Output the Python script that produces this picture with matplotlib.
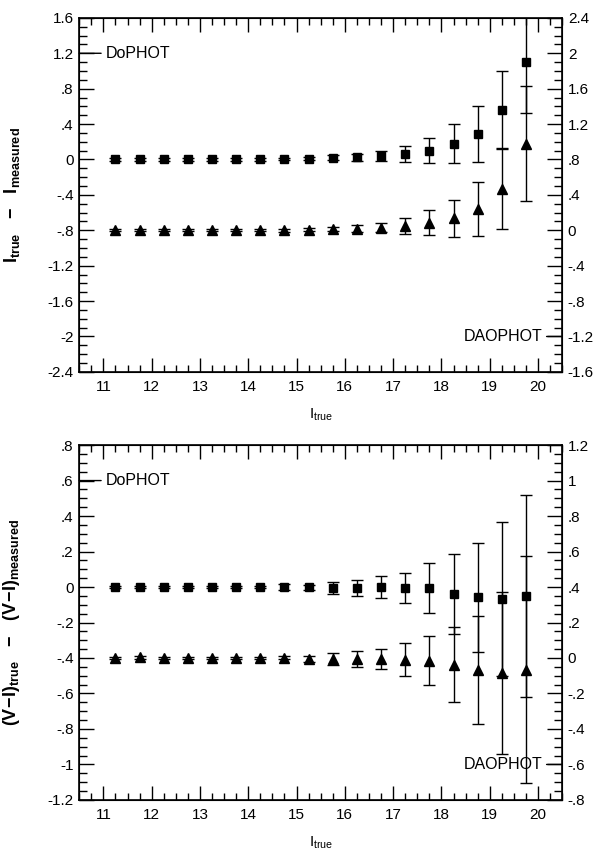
import matplotlib
matplotlib.use("Agg")
import matplotlib.pyplot as plt
from matplotlib.ticker import MultipleLocator, FuncFormatter

plt.rcParams["font.family"] = ["Liberation Sans", "DejaVu Sans"]
plt.rcParams["mathtext.fontset"] = "custom"
plt.rcParams["mathtext.rm"] = "Liberation Sans"
plt.rcParams["mathtext.it"] = "Liberation Sans"
plt.rcParams["mathtext.bf"] = "Liberation Sans:bold"

# input magnitude bins (bin centres)
i_true = [11.25, 11.75, 12.25, 12.75, 13.25, 13.75, 14.25, 14.75, 15.25,
          15.75, 16.25, 16.75, 17.25, 17.75, 18.25, 18.75, 19.25, 19.75]

# top panel: I_true - I_measured
di_dophot = [0, 0, 0, 0, 0, 0, 0, 0.005, 0.01, 0.02, 0.025, 0.04, 0.06,
             0.10, 0.18, 0.29, 0.56, 1.10]
di_dophot_err = [0.012, 0.012, 0.012, 0.012, 0.012, 0.012, 0.013, 0.015,
                 0.02, 0.025, 0.038, 0.06, 0.088, 0.143, 0.225, 0.315,
                 0.44, 0.58]
di_daophot = [0, 0, 0, 0, 0, 0, 0, 0, 0.005, 0.01, 0.02, 0.03, 0.05, 0.085,
              0.135, 0.235, 0.47, 0.98]
di_daophot_err = [0.01, 0.01, 0.01, 0.01, 0.01, 0.01, 0.012, 0.014, 0.018,
                  0.022, 0.035, 0.05, 0.09, 0.14, 0.21, 0.305, 0.46, 0.65]

# bottom panel: (V-I)_true - (V-I)_measured
dvi_dophot = [0, 0, 0, 0, 0, 0, 0, 0, -0.002, -0.005, -0.003, 0, -0.005,
              -0.005, -0.037, -0.059, -0.069, -0.05]
dvi_dophot_err = [0.006, 0.006, 0.006, 0.006, 0.006, 0.006, 0.008, 0.015,
                  0.015, 0.035, 0.045, 0.062, 0.085, 0.14, 0.225, 0.305,
                  0.435, 0.57]
dvi_daophot = [0, 0.003, 0.002, 0, 0.002, 0, 0, 0.002, -0.005, -0.005,
               -0.005, -0.005, -0.01, -0.015, -0.037, -0.066, -0.084, -0.066]
dvi_daophot_err = [0.006, 0.006, 0.006, 0.006, 0.006, 0.006, 0.008, 0.01,
                   0.015, 0.035, 0.047, 0.058, 0.093, 0.14, 0.21, 0.304,
                   0.455, 0.64]


def short_num(v, pos=None):
    s = f"{v:.2f}".rstrip("0").rstrip(".")
    if s in ("-0", "-0.", ""):
        s = "0"
    if s.startswith("0."):
        s = s[1:]
    elif s.startswith("-0."):
        s = "-" + s[2:]
    return s


def style_axis(ax, major, minor, side):
    ax.yaxis.set_major_locator(MultipleLocator(major))
    ax.yaxis.set_minor_locator(MultipleLocator(minor))
    ax.yaxis.set_major_formatter(FuncFormatter(short_num))
    ax.tick_params(axis="y", which="major", direction="in", length=11,
                   width=1, labelsize=11, pad=4,
                   left=(side == "left"), right=(side == "right"),
                   labelleft=(side == "left"), labelright=(side == "right"))
    ax.tick_params(axis="y", which="minor", direction="in", length=6,
                   width=1, left=(side == "left"), right=(side == "right"))


def panel(rect, ylim, offset, major, minor, y_do, e_do, y_dao, e_dao,
          ylabel, lab_do, lab_dao):
    ax = fig.add_axes(rect)
    ax.set_xlim(10.5, 20.5)
    ax.set_ylim(*ylim)
    ax.xaxis.set_major_locator(MultipleLocator(1))
    ax.xaxis.set_minor_locator(MultipleLocator(0.25))
    ax.tick_params(axis="x", which="major", direction="in", length=10,
                   width=1, top=True, labelsize=11, pad=6)
    ax.tick_params(axis="x", which="minor", direction="in", length=5,
                   width=1, top=True)
    style_axis(ax, major, minor, "left")
    for sp in ax.spines.values():
        sp.set_linewidth(1.2)

    ax2 = ax.twinx()
    ax2.set_ylim(ylim[0] + offset, ylim[1] + offset)
    style_axis(ax2, major, minor, "right")

    ax.errorbar(i_true, y_do, yerr=e_do, fmt="s", color="black", ms=5.5,
                capsize=4, elinewidth=1, capthick=1)
    ax2.errorbar(i_true, y_dao, yerr=e_dao, fmt="^", color="black", ms=6.5,
                 capsize=4, elinewidth=1, capthick=1)

    ax.set_xlabel(r"$\mathrm{I_{true}}$", fontsize=11, labelpad=9)
    ax.set_ylabel(ylabel, fontsize=13)
    ax.yaxis.set_label_coords(-0.118, 0.5)

    ax.annotate("DoPHOT", xy=(0, lab_do), xycoords=("axes fraction", "data"),
                xytext=(11.04, lab_do), textcoords="data", fontsize=11.5,
                ha="left", va="center",
                arrowprops=dict(arrowstyle="-", lw=1, shrinkA=1, shrinkB=0))
    ax.annotate("DAOPHOT", xy=(1, lab_dao), xycoords=("axes fraction", "data"),
                xytext=(20.09, lab_dao), textcoords="data", fontsize=11.5,
                ha="right", va="center",
                arrowprops=dict(arrowstyle="-", lw=1, shrinkA=1, shrinkB=0))
    return ax


fig = plt.figure(figsize=(6.0, 8.51), dpi=100)

panel([0.132, 0.563, 0.805, 0.416], (-2.4, 1.6), 0.8, 0.4, 0.1,
      di_dophot, di_dophot_err, di_daophot, di_daophot_err,
      r"$\mathbf{I_{true}}$   $\mathbf{-}$   $\mathbf{I_{measured}}$",
      1.2, -2.0)

panel([0.132, 0.060, 0.805, 0.417], (-1.2, 0.8), 0.4, 0.2, 0.05,
      dvi_dophot, dvi_dophot_err, dvi_daophot, dvi_daophot_err,
      r"$\mathbf{(V\!-\!I)_{true}}$   $\mathbf{-}$   $\mathbf{(V\!-\!I)_{measured}}$",
      0.6, -1.0)

fig.savefig("out.png", dpi=100)
